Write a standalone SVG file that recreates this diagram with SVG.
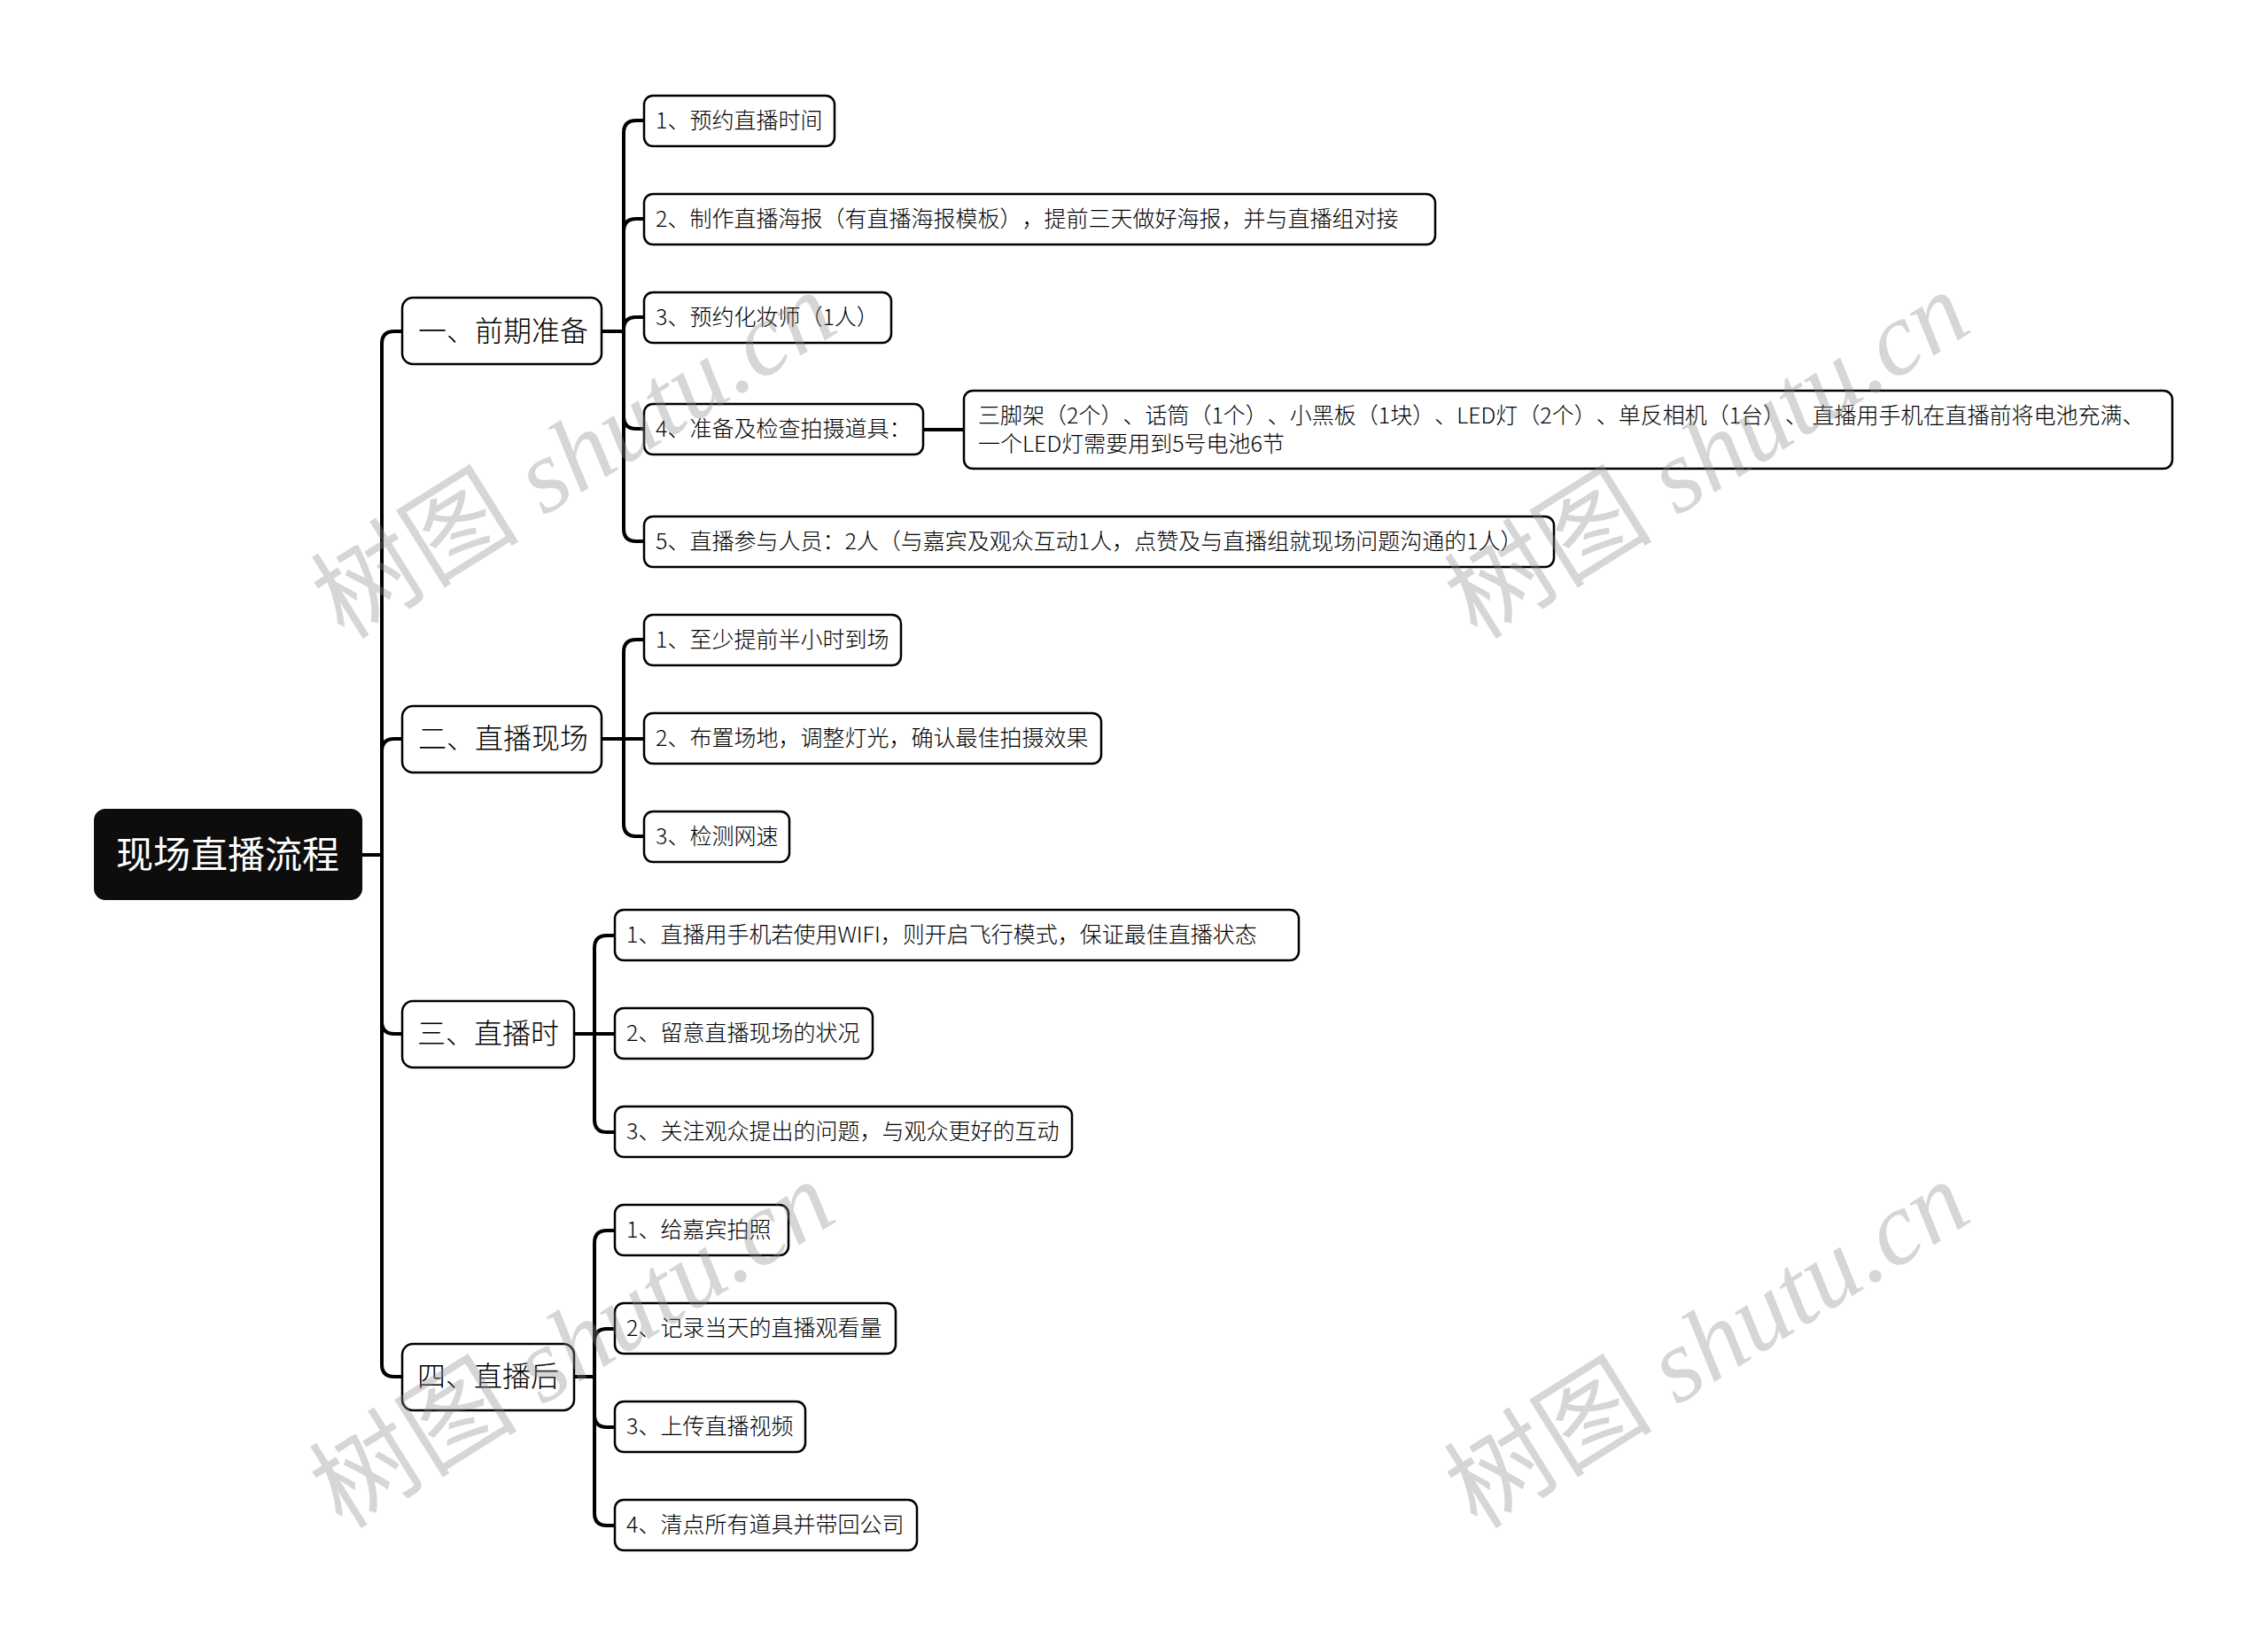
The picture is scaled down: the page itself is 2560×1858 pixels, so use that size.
<svg xmlns="http://www.w3.org/2000/svg" width="2560" height="1858" viewBox="0 0 2560 1858">
<style>
text{text-spacing-trim:space-all;font-kerning:none}
.bg{fill:#ffffff}
.conn{fill:none;stroke:#000;stroke-width:4;stroke-linejoin:round;stroke-linecap:butt}
.root rect{fill:#0d0d0d;stroke:#0d0d0d;stroke-width:2}
.root text{fill:#ffffff;font-family:"Noto Sans CJK SC","Microsoft YaHei",sans-serif;font-size:42px}
.l1 rect{fill:#fff;stroke:#000;stroke-width:2.5}
.l1 text{fill:#000;font-family:"Noto Sans CJK SC","Microsoft YaHei",sans-serif;font-size:32px;font-weight:300}
.l2 rect{fill:#fff;stroke:#000;stroke-width:2.5}
.l2 text{fill:#000;font-family:"Noto Sans CJK SC","Microsoft YaHei",sans-serif;font-size:25px;font-weight:300}
.wm{fill:#8c8c8c;opacity:0.35;font-family:"Liberation Serif","Noto Sans CJK SC",serif;font-size:118px}
</style>
<rect class="bg" x="0" y="0" width="2560" height="1858"/>

<g id="connectors">
  <path class="conn" d="M408,965 H431"/>
  <path class="conn" d="M431,965 V388 Q431,374 445,374 H454"/>
  <path class="conn" d="M431,965 V848 Q431,834 445,834 H454"/>
  <path class="conn" d="M431,965 V1153 Q431,1167 445,1167 H454"/>
  <path class="conn" d="M431,965 V1540 Q431,1554 445,1554 H454"/>

  <path class="conn" d="M679,374 H704"/>
  <path class="conn" d="M704,374 V150 Q704,136 718,136 H727"/>
  <path class="conn" d="M704,374 V261 Q704,247 718,247 H727"/>
  <path class="conn" d="M704,374 V372 Q704,358 718,358 H727"/>
  <path class="conn" d="M704,374 V470 Q704,484 718,484 H727"/>
  <path class="conn" d="M704,374 V597 Q704,611 718,611 H727"/>
  <path class="conn" d="M1042,485 H1088"/>

  <path class="conn" d="M679,834 H727"/>
  <path class="conn" d="M704,834 V736 Q704,722 718,722 H727"/>
  <path class="conn" d="M704,834 V930 Q704,944 718,944 H727"/>

  <path class="conn" d="M648,1167 H694"/>
  <path class="conn" d="M671,1167 V1070 Q671,1056 685,1056 H694"/>
  <path class="conn" d="M671,1167 V1264 Q671,1278 685,1278 H694"/>

  <path class="conn" d="M648,1554 H671"/>
  <path class="conn" d="M671,1554 V1403 Q671,1389 685,1389 H694"/>
  <path class="conn" d="M671,1554 V1514 Q671,1500 685,1500 H694"/>
  <path class="conn" d="M671,1554 V1597 Q671,1611 685,1611 H694"/>
  <path class="conn" d="M671,1554 V1708 Q671,1722 685,1722 H694"/>
</g>

<g id="root" class="root">
  <rect x="107" y="914" width="301" height="101" rx="12"/>
  <text x="131" y="980">现场直播流程</text>
</g>

<g id="n1" class="l1">
  <rect x="454" y="336" width="225" height="75" rx="12"/>
  <text x="472" y="385">一、前期准备</text>
</g>
<g id="n2" class="l1">
  <rect x="454" y="797" width="225" height="75" rx="12"/>
  <text x="472" y="845">二、直播现场</text>
</g>
<g id="n3" class="l1">
  <rect x="454" y="1130" width="194" height="75" rx="12"/>
  <text x="471" y="1178">三、直播时</text>
</g>
<g id="n4" class="l1">
  <rect x="454" y="1517" width="194" height="75" rx="12"/>
  <text x="471" y="1565">四、直播后</text>
</g>

<g id="n1-1" class="l2">
  <rect x="727" y="108" width="215" height="57" rx="10"/>
  <text x="740" y="145">1、预约直播时间</text>
</g>
<g id="n1-2" class="l2">
  <rect x="727" y="219" width="893" height="57" rx="10"/>
  <text x="740" y="256">2、制作直播海报（有直播海报模板），提前三天做好海报，并与直播组对接</text>
</g>
<g id="n1-3" class="l2">
  <rect x="727" y="330" width="279" height="57" rx="10"/>
  <text x="740" y="367">3、预约化妆师（1人）</text>
</g>
<g id="n1-4" class="l2">
  <rect x="727" y="456" width="315" height="57" rx="10"/>
  <text x="740" y="493">4、准备及检查拍摄道具：</text>
</g>
<g id="n1-4-1" class="l2">
  <rect x="1088" y="441" width="1364" height="88" rx="10"/>
  <text x="1104" y="478">三脚架（2个）、话筒（1个）、小黑板（1块）、LED灯（2个）、单反相机（1台）、 直播用手机在直播前将电池充满、</text>
  <text x="1104" y="510">一个LED灯需要用到5号电池6节</text>
</g>
<g id="n1-5" class="l2">
  <rect x="727" y="583" width="1027" height="57" rx="10"/>
  <text x="740" y="620">5、直播参与人员：2人（与嘉宾及观众互动1人，点赞及与直播组就现场问题沟通的1人）</text>
</g>

<g id="n2-1" class="l2">
  <rect x="727" y="694" width="290" height="57" rx="10"/>
  <text x="740" y="731">1、至少提前半小时到场</text>
</g>
<g id="n2-2" class="l2">
  <rect x="727" y="805" width="516" height="57" rx="10"/>
  <text x="740" y="842">2、布置场地，调整灯光，确认最佳拍摄效果</text>
</g>
<g id="n2-3" class="l2">
  <rect x="727" y="916" width="164" height="57" rx="10"/>
  <text x="740" y="953">3、检测网速</text>
</g>

<g id="n3-1" class="l2">
  <rect x="694" y="1027" width="772" height="57" rx="10"/>
  <text x="707" y="1064">1、直播用手机若使用WIFI，则开启飞行模式，保证最佳直播状态</text>
</g>
<g id="n3-2" class="l2">
  <rect x="694" y="1138" width="291" height="57" rx="10"/>
  <text x="707" y="1175">2、留意直播现场的状况</text>
</g>
<g id="n3-3" class="l2">
  <rect x="694" y="1249" width="516" height="57" rx="10"/>
  <text x="707" y="1286">3、关注观众提出的问题，与观众更好的互动</text>
</g>

<g id="n4-1" class="l2">
  <rect x="694" y="1360" width="196" height="57" rx="10"/>
  <text x="707" y="1397">1、给嘉宾拍照</text>
</g>
<g id="n4-2" class="l2">
  <rect x="694" y="1471" width="317" height="57" rx="10"/>
  <text x="707" y="1508">2、记录当天的直播观看量</text>
</g>
<g id="n4-3" class="l2">
  <rect x="694" y="1582" width="215" height="57" rx="10"/>
  <text x="707" y="1619">3、上传直播视频</text>
</g>
<g id="n4-4" class="l2">
  <rect x="694" y="1693" width="341" height="57" rx="10"/>
  <text x="707" y="1730">4、清点所有道具并带回公司</text>
</g>

<g id="watermarks">
  <text class="wm" transform="translate(648,514) rotate(-32)" x="0" y="40" text-anchor="middle">树图 <tspan font-style="italic">shutu.cn</tspan></text>
  <text class="wm" transform="translate(1927,514) rotate(-32)" x="0" y="40" text-anchor="middle">树图 <tspan font-style="italic">shutu.cn</tspan></text>
  <text class="wm" transform="translate(646,1518) rotate(-32)" x="0" y="40" text-anchor="middle">树图 <tspan font-style="italic">shutu.cn</tspan></text>
  <text class="wm" transform="translate(1927,1518) rotate(-32)" x="0" y="40" text-anchor="middle">树图 <tspan font-style="italic">shutu.cn</tspan></text>
</g>
</svg>
